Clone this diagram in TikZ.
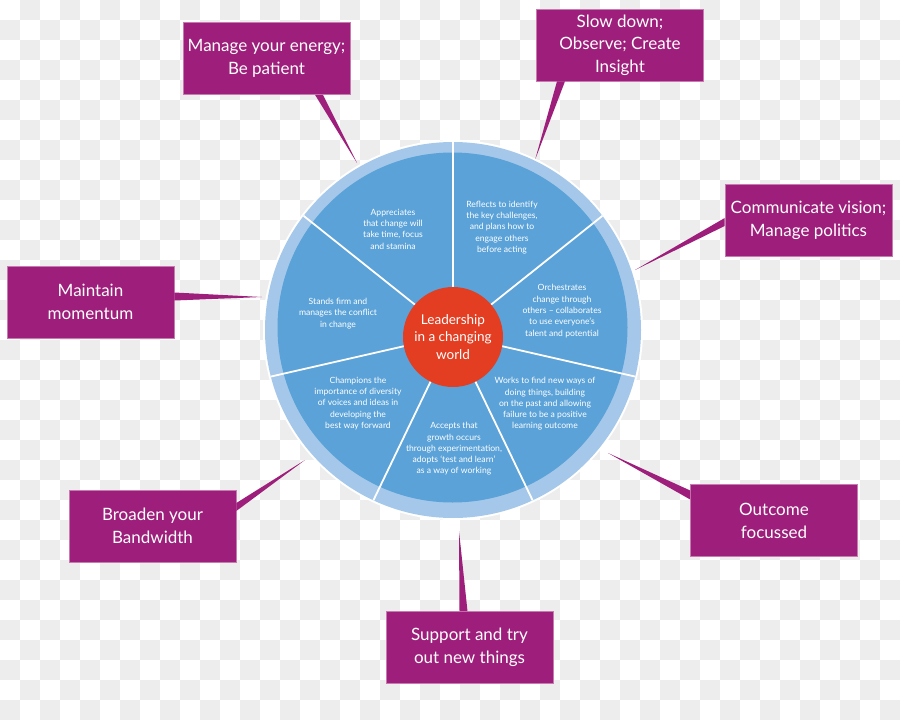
\documentclass[tikz,border=0pt]{standalone}
\usepackage{fontspec}
\setmainfont{Lato}
\usetikzlibrary{calc}
\definecolor{purp}{HTML}{9D1F7B}
\definecolor{purpedge}{HTML}{C77AB0}
\definecolor{dblue}{HTML}{5AA2D8}
\definecolor{lblue}{HTML}{A5C8EA}
\definecolor{redc}{HTML}{E33E22}
\definecolor{chk}{HTML}{EDEDED}
\tikzset{
  box/.style={fill=purp, draw=purpedge, line width=0.6pt, minimum width=167pt, minimum height=72pt,
    inner sep=0pt, text=white, align=center, font=\fontsize{17}{23}\selectfont},
  wtext/.style={text=white, align=center, inner sep=0pt, font=\fontsize{8.6}{11.3}\selectfont},
  ctext/.style={text=white, align=center, inner sep=0pt, font=\fontsize{13.5}{17.7}\selectfont},
  conn/.style={fill=purp},
  divider/.style={draw=white, line width=1.8pt}
}
\begin{document}
\begin{tikzpicture}[x=1pt, y=-1pt]
\useasboundingbox (0,0) rectangle (900,720);
% background checkerboard
\begin{scope}
\clip (0,0) rectangle (900,720);
\fill[white] (0,0) rectangle (900,720);
\foreach \j in {0,...,35}{
  \pgfmathtruncatemacro\off{mod(\j+1,2)}
  \foreach \i in {0,...,22}{
    \fill[chk] (40*\i+20*\off, 20*\j) rectangle ++(20,20);
  }
}
\end{scope}

% boxes
\node[box] (b1) at (266.5,58.5) {Manage your energy;\\Be patient};
\node[box] (b2) at (620,45) {Slow down;\\[-0.5pt]Observe; Create\\[-0.5pt]Insight};
\node[box] (b3) at (808.5,220) {Communicate vision;\\Manage politics};
\node[box] (b4) at (90.5,302) {Maintain\\momentum};
\node[box] (b5) at (152.5,526) {Broaden your\\Bandwidth};
\node[box] (b6) at (469.5,647.5) {Support and try\\out new things};
\node[box] (b7) at (774,520.5) {Outcome\\focussed};

% connector tips on circle
\coordinate (t1) at (357,163);
\coordinate (t2) at (535,160);
\coordinate (t3) at (635,270);
\coordinate (t4) at (262,297);
\coordinate (t5) at (305,460);
\coordinate (t6) at (459,531);
\coordinate (t7) at (608,453);
% connectors (tapered)
\fill[conn] (t1) -- ($(b1.south)+(48.5,0)$) -- ($(b1.south)+(56.5,0)$) -- cycle;
\fill[conn] (t2) -- ($(b2.south)+(-63,0)$) -- ($(b2.south)+(-55,0)$) -- cycle;
\fill[conn] (t3) -- ($(b3.west)+(0,-2)$) -- ($(b3.west)+(0,6)$) -- cycle;
\fill[conn] (t4) -- ($(b4.east)+(0,-9.5)$) -- ($(b4.east)+(0,-1.5)$) -- cycle;
\fill[conn] (t5) -- ($(b5.east)+(0,-23)$) -- ($(b5.east)+(0,-15)$) -- cycle;
\fill[conn] (t6) -- ($(b6.north)+(-10,0)$) -- ($(b6.north)+(-2,0)$) -- cycle;
\fill[conn] (t7) -- ($(b7.west)+(0,-30)$) -- ($(b7.west)+(0,-21)$) -- cycle;

% wheel
\coordinate (O) at (453,330);
\coordinate (D) at (453,335);
\fill[white] (O) circle (190);
\fill[lblue] (O) circle (188);
\fill[dblue] (452.5,327.5) circle (175);
\begin{scope}
\clip (O) circle (188);
\foreach \a in {90, 38.571, -12.857, -64.286, -115.714, -167.143, 141.429}{
  \draw[divider] (D) -- ++(-\a:210);
}
\end{scope}
\fill[redc] (453,337) circle (50);
\node[ctext] (c) at (453,337) {Leadership\\in a changing\\world};

% wedge texts
\node[wtext] (w1) at (393,229) {Appreciates\\that change will\\take time, focus\\and stamina};
\node[wtext] (w2) at (502,227.5) {Reflects to identify\\the key challenges,\\and plans how to\\engage others\\before acting};
\node[wtext] (w3) at (562,311) {Orchestrates\\change through\\others -- collaborates\\to use everyone's\\talent and potential};
\node[wtext] (w4) at (545,404) {Works to find new ways of\\doing things, building\\on the past and allowing\\failure to be a positive\\learning outcome};
\node[wtext] (w5) at (454,449) {Accepts that\\growth occurs\\through experimentation,\\adopts `test and learn'\\as a way of working};
\node[wtext] (w6) at (358,403.5) {Champions the\\importance of diversity\\of voices and ideas in\\developing the\\best way forward};
\node[wtext] (w7) at (338,313.5) {Stands firm and\\manages the conflict\\in change};
\end{tikzpicture}
\end{document}
